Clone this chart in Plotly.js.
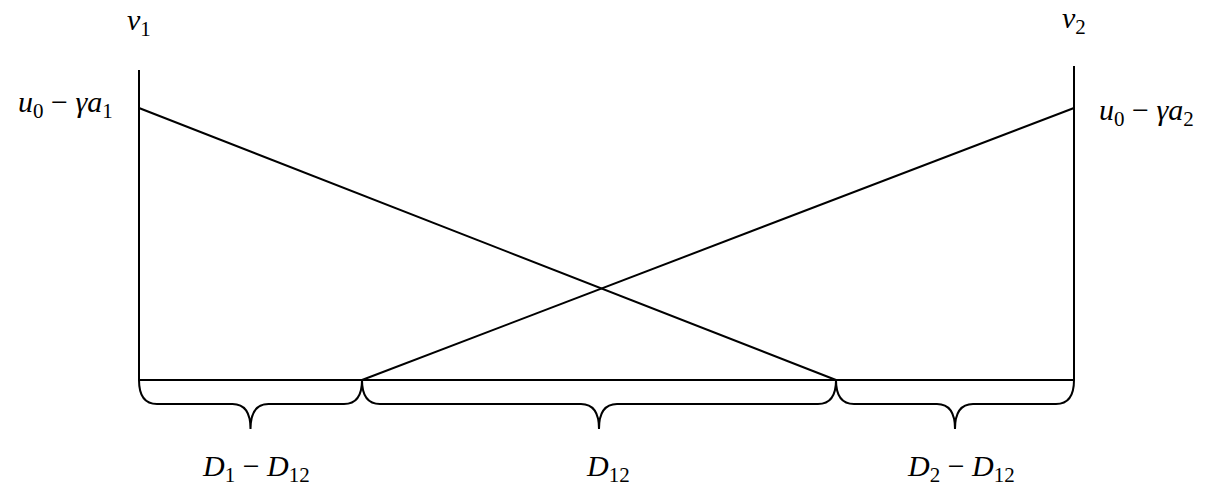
<!DOCTYPE html>
<html>
<head>
<meta charset="utf-8">
<script src="https://cdn.plot.ly/plotly-3.0.1.min.js"></script>
<style>
  html, body { margin: 0; padding: 0; background: #fff; }
  #plot { width: 1211px; height: 486px; }
</style>
</head>
<body>
<div id="plot"></div>
<script>
// Split points along the base (distance from v1)
let splitX = [0, 223, 697, 935];
// Height of the u0 - gamma*a levels at v1 and v2
let uLevels = [272, 272];
// Height of the two posts
let postTops = [310, 314];
// Brace depth (flat part) and tip depth
let braceFlat = -24;
let braceTip = -49;

// Labels
let postLabels = ['<i>v</i><sub>1</sub>', '<i>v</i><sub>2</sub>'];
let levelLabels = ['<i>u</i><sub>0</sub> − <i>γa</i><sub>1</sub>', '<i>u</i><sub>0</sub> − <i>γa</i><sub>2</sub>'];
let braceLabels = ['<i>D</i><sub>1</sub> − <i>D</i><sub>12</sub>', '<i>D</i><sub>12</sub>', '<i>D</i><sub>2</sub> − <i>D</i><sub>12</sub>'];

let lineStyle = { color: 'black', width: 2 };
let x0 = splitX[0];
let x3 = splitX[3];

// Posts, base and the two diagonals
let traces = [
    { x: [x0, x0], y: [0, postTops[0]] },
    { x: [x3, x3], y: [0, postTops[1]] },
    { x: [x0, x3], y: [0, 0] },
    { x: [x0, splitX[2]], y: [uLevels[0], 0] },
    { x: [splitX[1], x3], y: [0, uLevels[1]] }
].map(t => Object.assign(t, { mode: 'lines', line: lineStyle, hoverinfo: 'skip', showlegend: false }));

// Curly braces under each segment
let shapes = [];
for (let i = 0; i < 3; i++) {
    let a = splitX[i];
    let b = splitX[i + 1];
    let m = (a + b) / 2;
    let r = 18;
    let path = 'M ' + a + ',0 Q ' + a + ',' + braceFlat + ' ' + (a + r) + ',' + braceFlat +
        ' L ' + (m - r) + ',' + braceFlat + ' Q ' + m + ',' + braceFlat + ' ' + m + ',' + braceTip +
        ' Q ' + m + ',' + braceFlat + ' ' + (m + r) + ',' + braceFlat +
        ' L ' + (b - r) + ',' + braceFlat + ' Q ' + b + ',' + braceFlat + ' ' + b + ',0';
    shapes.push({ type: 'path', xref: 'x', yref: 'y', path: path, line: lineStyle });
}

let font = { family: 'Liberation Serif, DejaVu Serif, serif', size: 30, color: 'black' };
let annotations = [];

// v1, v2 above the posts
annotations.push({ x: x0, y: 358, text: postLabels[0], xanchor: 'center' });
annotations.push({ x: x3, y: 360, text: postLabels[1], xanchor: 'center' });
// level labels beside the posts
annotations.push({ x: x0 - 24, y: uLevels[0] + 4, text: levelLabels[0], xanchor: 'right' });
annotations.push({ x: x3 + 23, y: uLevels[1] - 4, text: levelLabels[1], xanchor: 'left' });
// brace labels
let labelShift = [5, 9, 6];
for (let i = 0; i < 3; i++) {
    annotations.push({ x: (splitX[i] + splitX[i + 1]) / 2 + labelShift[i], y: -88, text: braceLabels[i], xanchor: 'center' });
}
annotations = annotations.map(a => Object.assign(a, {
    xref: 'x', yref: 'y', yanchor: 'middle', showarrow: false, font: font
}));

let layout = {
    width: 1211,
    height: 486,
    margin: { l: 0, r: 0, t: 0, b: 0 },
    paper_bgcolor: 'white',
    plot_bgcolor: 'white',
    xaxis: { range: [-139, 1072], visible: false, fixedrange: true },
    yaxis: { range: [-106, 380], visible: false, fixedrange: true },
    shapes: shapes,
    annotations: annotations
};

Plotly.newPlot('plot', traces, layout, { staticPlot: true });
</script>
</body>
</html>
